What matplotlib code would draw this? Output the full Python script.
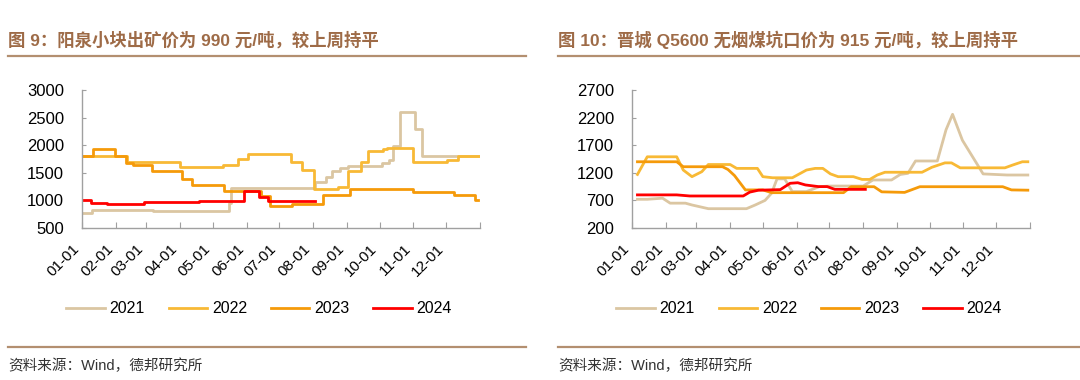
import matplotlib
matplotlib.use('Agg')
import matplotlib.pyplot as plt
from matplotlib.lines import Line2D
import pandas as pd

plt.rcParams['font.family'] = ['Liberation Sans', 'Noto Sans CJK SC']

years = ['2021', '2022', '2023', '2024']
colors = ['#DBC6A2', '#F8B935', '#F59A0A', '#FF0000']

# 图9 阳泉小块出矿价（元/吨），价格变动日
yq_2021_d = ['01-01', '01-10', '03-07', '05-16', '05-18', '08-03', '08-13', '08-18', '08-26', '09-02',
             '10-03', '10-10', '10-13', '10-20', '11-02', '11-09', '12-31']
yq_2021_v = [770, 830, 800, 950, 1230, 1340, 1430, 1530, 1580, 1630,
             1680, 1730, 1990, 2600, 2300, 1800, 1800]
yq_2022_d = ['01-01', '02-11', '04-01', '05-10', '05-24', '06-02', '07-12', '07-22', '08-02', '08-24',
             '09-02', '09-14', '09-20', '10-04', '10-08', '11-01', '12-02', '12-12', '12-31']
yq_2022_v = [1800, 1700, 1600, 1650, 1750, 1840, 1700, 1550, 1200, 1240,
             1540, 1700, 1890, 1930, 1950, 1690, 1740, 1800, 1800]
yq_2023_d = ['01-01', '01-11', '01-31', '02-10', '02-17', '03-06', '04-03', '04-12', '05-11', '06-14',
             '06-22', '07-13', '08-10', '09-04', '11-01', '12-08', '12-27', '12-30']
yq_2023_v = [1800, 1940, 1800, 1670, 1640, 1530, 1380, 1280, 1170, 1080,
             900, 930, 1090, 1200, 1150, 1090, 1000, 1000]
yq_2024_d = ['01-01', '01-09', '01-24', '02-27', '04-18', '05-30', '06-12', '06-21', '08-03']
yq_2024_v = [1000, 960, 930, 965, 995, 1170, 1070, 985, 985]

# 图10 晋城Q5600无烟煤坑口价（元/吨）
jc_2021_d = ['01-06', '01-15', '01-29', '02-05', '02-19', '02-25', '03-12', '04-16', '04-24', '05-03',
             '05-09', '05-14', '05-21', '05-28', '06-10', '06-22', '07-02', '08-01', '08-10', '08-27',
             '09-04', '09-11', '09-18', '10-08', '10-16', '10-22', '10-31', '11-19', '12-11', '12-30']
jc_2021_v = [720, 720, 740, 650, 650, 617, 550, 550, 617, 700,
             830, 1090, 1090, 860, 860, 950, 960, 960, 1070, 1070,
             1170, 1190, 1414, 1414, 1980, 2260, 1790, 1180, 1160, 1160]
jc_2022_d = ['01-06', '01-15', '02-11', '02-17', '02-25', '03-06', '03-12', '04-01', '04-07', '04-26',
             '05-01', '05-10', '05-28', '06-10', '06-18', '06-25', '07-02', '07-09', '07-23', '07-31',
             '08-07', '08-14', '08-21', '09-24', '10-03', '10-15', '10-21', '10-29', '12-09', '12-16',
             '12-25', '12-30']
jc_2022_v = [1170, 1490, 1490, 1250, 1130, 1220, 1350, 1350, 1280, 1280,
             1130, 1110, 1110, 1250, 1280, 1280, 1180, 1130, 1130, 1080,
             1080, 1160, 1210, 1210, 1300, 1380, 1380, 1290, 1290, 1340,
             1400, 1400]
jc_2023_d = ['01-06', '02-11', '02-17', '03-25', '03-30', '04-05', '04-15', '05-01', '05-09', '07-14',
             '07-21', '08-11', '08-18', '09-08', '09-22', '12-07', '12-15', '12-30']
jc_2023_v = [1400, 1400, 1310, 1310, 1260, 1150, 890, 890, 840, 840,
             948, 948, 855, 845, 948, 948, 890, 885]
jc_2024_d = ['01-06', '02-11', '02-23', '04-13', '04-19', '04-27', '05-17', '05-26', '06-02', '06-09',
             '06-21', '06-29', '07-06', '08-03']
jc_2024_v = [800, 800, 780, 780, 850, 885, 895, 1010, 1020, 980,
             950, 950, 900, 900]

month_ticks = pd.date_range('2023-01-01', '2024-01-01', freq='MS')
tick_pos = [(t - month_ticks[0]).days for t in month_ticks]
tick_lab = [t.strftime('%m-%d') for t in month_ticks[:-1]] + ['']


def doy(days):
    return [pd.Timestamp('2023-' + s).dayofyear - 1 for s in days]


def draw(ax, series, ylo, yhi, step):
    for (d, v), c, y in zip(series, colors, years):
        ax.plot(doy(d), v, color=c, lw=2, label=y,
                drawstyle='steps-post' if step else 'default')
    ax.set_xlim(0, 365)
    ax.set_ylim(ylo, yhi)
    ax.set_yticks(range(ylo, yhi + 1, 500))
    ax.set_xticks(tick_pos)
    ax.set_xticklabels(tick_lab, rotation=45, ha='right')
    ax.tick_params(axis='x', direction='in', length=4, color='#A0A0A0', pad=10, labelsize=11)
    ax.tick_params(axis='y', direction='in', length=3, color='#A0A0A0', pad=13, labelsize=12)
    for s in ['top', 'right']:
        ax.spines[s].set_visible(False)
    for s in ['left', 'bottom']:
        ax.spines[s].set_color('#A0A0A0')
        ax.spines[s].set_linewidth(1)


fig = plt.figure(figsize=(10.8, 3.8), dpi=100)
ax1 = fig.add_axes([82 / 1080, 0.4, 398 / 1080, 138 / 380])
ax2 = fig.add_axes([632 / 1080, 0.4, 398 / 1080, 138 / 380])

draw(ax1, [(yq_2021_d, yq_2021_v), (yq_2022_d, yq_2022_v), (yq_2023_d, yq_2023_v), (yq_2024_d, yq_2024_v)],
     500, 3000, True)
draw(ax2, [(jc_2021_d, jc_2021_v), (jc_2022_d, jc_2022_v), (jc_2023_d, jc_2023_v), (jc_2024_d, jc_2024_v)],
     200, 2700, False)

for ax, cx in [(ax1, 259 / 1080), (ax2, 809 / 1080)]:
    ax.legend(loc='center', bbox_to_anchor=(cx, 0.187), bbox_transform=fig.transFigure, ncol=4,
              frameon=False, fontsize=11.5, handlelength=2.4, handletextpad=0.3, columnspacing=1.5)

title_c = '#9E6B47'
rule_c = '#B38F70'
titles = ['图 9：阳泉小块出矿价为 990 元/吨，较上周持平',
          '图 10：晋城 Q5600 无烟煤坑口价为 915 元/吨，较上周持平']
for x0, x1, t in [(8, 526, titles[0]), (558, 1080, titles[1])]:
    fig.text(x0 / 1080, 1 - 40 / 380, t, color=title_c, fontsize=12.5, fontweight='bold', va='center')
    fig.add_artist(Line2D([x0 / 1080, x1 / 1080], [1 - 56 / 380] * 2, color=rule_c, lw=1.6))
    fig.add_artist(Line2D([x0 / 1080, x1 / 1080], [1 - 347 / 380] * 2, color=rule_c, lw=1.6))
    fig.text(x0 / 1080, 1 - 366 / 380, '资料来源：Wind，德邦研究所', color='#333333', fontsize=10.5, va='center')

fig.savefig('out.png', dpi=100)
